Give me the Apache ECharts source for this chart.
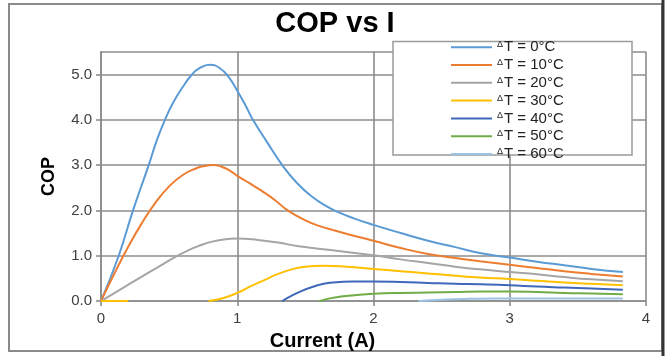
<!DOCTYPE html>
<html>
<head>
<meta charset="utf-8">
<script src="https://cdn.jsdelivr.net/npm/echarts@6/dist/echarts.min.js"></script>
<style>html,body{margin:0;padding:0;background:#fff}#c{width:670px;height:356px}</style>
</head>
<body>
<div id="c"></div>
<script>
var seriesNames = ['ΔT = 0°C','ΔT = 10°C','ΔT = 20°C','ΔT = 30°C','ΔT = 40°C','ΔT = 50°C','ΔT = 60°C'];
var colors = ['#5B9BD5','#ED7D31','#A5A5A5','#FFC000','#3F68BA','#70AD47','#9DC3E6'];
var xTicks = [0,1,2,3,4];
var yTicks = [0,1,2,3,4,5];

var x0 = [0,0.13,0.235,0.35,0.41,0.47,0.53,0.60,0.66,0.72,0.80,0.87,0.94,1.0,1.06,1.115,1.22,1.33,1.44,1.55,1.65,1.75,1.85,2.0,2.2,2.4,2.6,2.78,3.0,3.2,3.4,3.6,3.83];
var y0 = [0,1,2,3,3.55,4.0,4.38,4.72,4.97,5.13,5.21,5.14,4.93,4.64,4.32,4.0,3.5,3.0,2.6,2.3,2.1,1.95,1.83,1.68,1.5,1.33,1.19,1.06,0.96,0.87,0.79,0.71,0.64];

var x10 = [0,0.1,0.2,0.3,0.4,0.5,0.6,0.7,0.76,0.82,0.88,0.94,1.0,1.09,1.18,1.28,1.37,1.5,1.6,1.7,1.82,2.0,2.2,2.4,2.6,2.78,3.0,3.2,3.4,3.6,3.83];
var y10 = [0,0.62,1.2,1.72,2.17,2.53,2.78,2.93,2.98,3.0,2.97,2.89,2.76,2.6,2.43,2.22,2.0,1.78,1.66,1.57,1.47,1.33,1.17,1.04,0.95,0.88,0.8,0.73,0.66,0.6,0.54];

var x20 = [0,0.15,0.3,0.44,0.55,0.64,0.72,0.80,0.90,1.0,1.15,1.3,1.45,1.7,2.0,2.2,2.4,2.6,2.78,3.0,3.2,3.4,3.6,3.83];
var y20 = [0,0.27,0.54,0.79,0.98,1.12,1.22,1.30,1.36,1.38,1.35,1.29,1.21,1.12,1.01,0.92,0.84,0.76,0.70,0.64,0.59,0.53,0.48,0.44];

var x30 = [0,0.2,null,0.79,0.9,1.0,1.1,1.21,1.3,1.4,1.5,1.63,1.8,2.0,2.2,2.4,2.6,2.78,3.0,3.2,3.4,3.6,3.83];
var y30 = [0,0,null,0,0.07,0.18,0.33,0.48,0.6,0.7,0.76,0.78,0.76,0.71,0.66,0.61,0.56,0.52,0.49,0.45,0.41,0.38,0.35];

var x40 = [1.33,1.40,1.47,1.55,1.62,1.70,1.85,2.0,2.2,2.4,2.6,2.78,3.0,3.2,3.4,3.6,3.83];
var y40 = [0,0.12,0.22,0.31,0.37,0.41,0.43,0.43,0.42,0.40,0.38,0.37,0.35,0.32,0.30,0.28,0.25];

var x50 = [1.60,1.68,1.76,1.86,2.0,2.2,2.4,2.6,2.8,3.0,3.2,3.4,3.6,3.83];
var y50 = [0,0.06,0.10,0.13,0.16,0.18,0.19,0.20,0.21,0.21,0.20,0.18,0.17,0.15];

var x60 = [2.33,2.5,2.7,2.9,3.1,3.4,3.83];
var y60 = [0,0.03,0.05,0.06,0.06,0.06,0.06];

var xs = [x0,x10,x20,x30,x40,x50,x60];
var ys = [y0,y10,y20,y30,y40,y50,y60];

function pairs(xa, ya){
  return xa.map(function(x,i){ return x === null ? [null,null] : [x, ya[i]]; });
}

var FONT = 'Liberation Sans, Arial, sans-serif';
var gridColor = '#8c8c8c';

var chart = echarts.init(document.getElementById('c'), null, {renderer:'canvas'});
chart.setOption({
  animation:false,
  backgroundColor:'#fff',
  color: colors,
  title:{
    text:'COP vs I', left:'center', top:9, padding:0,
    textStyle:{fontFamily:FONT, fontSize:29, fontWeight:'bold', color:'#000'}
  },
  grid:{left:101, right:24, top:51.7, bottom:48, containLabel:false},
  xAxis:{
    type:'value', min:0, max:4, interval:1,
    name:'Current (A)', nameLocation:'middle', nameGap:22,
    nameTextStyle:{fontFamily:FONT, fontSize:20, fontWeight:'bold', color:'#000', padding:[0,102,0,0]},
    axisLine:{show:true, lineStyle:{color:gridColor, width:1.6}},
    axisTick:{show:true, length:5, lineStyle:{color:gridColor, width:1.6}},
    axisLabel:{fontFamily:FONT, fontSize:15, color:'#404040', margin:10,
      formatter:function(v){ return xTicks.indexOf(v) >= 0 ? String(v) : ''; }},
    splitLine:{show:true, lineStyle:{color:gridColor, width:1.6}}
  },
  yAxis:{
    type:'value', min:0, max:5.5, interval:1,
    name:'COP', nameLocation:'middle', nameGap:43,
    nameTextStyle:{fontFamily:FONT, fontSize:18, fontWeight:'bold', color:'#000'},
    axisLine:{show:true, lineStyle:{color:gridColor, width:1.6}},
    axisTick:{show:true, length:5, lineStyle:{color:gridColor, width:1.6}},
    axisLabel:{fontFamily:FONT, fontSize:15, color:'#404040', margin:9, showMaxLabel:false,
      formatter:function(v){ return yTicks.indexOf(v) >= 0 ? v.toFixed(1) : ''; }},
    splitLine:{show:true, lineStyle:{color:gridColor, width:1.6}}
  },
  legend:{
    orient:'vertical', left:451, top:39.7, padding:0, z:20,
    icon:'rect', itemWidth:41, itemHeight:2, itemGap:2.8,
    data: seriesNames,
    formatter:function(n){ return n.replace('Δ','{s|Δ}'); },
    textStyle:{fontFamily:FONT, fontSize:15, lineHeight:14, color:'#222',
      rich:{s:{fontFamily:FONT, fontSize:9, lineHeight:14, color:'#222', padding:[0,1,5,0]}}}
  },
  graphic:[
    {type:'rect', z:10, shape:{x:393, y:41.5, width:239, height:113.5},
      style:{fill:'#fff', stroke:'#9a9a9a', lineWidth:1.5}},
    {type:'rect', z:0, shape:{x:9, y:4, width:653, height:347},
      style:{fill:'none', stroke:'#8a8a8a', lineWidth:2}},
    {type:'line', z:0, shape:{x1:663, y1:0, x2:663, y2:356},
      style:{stroke:'#333', lineWidth:3}}
  ],
  series: seriesNames.map(function(n,i){
    return {
      name:n, type:'line', data:pairs(xs[i], ys[i]),
      smooth:0.5, showSymbol:false, symbol:'none', connectNulls:false, clip:true,
      lineStyle:{width:2, color:colors[i]}, itemStyle:{color:colors[i]}, z:3
    };
  })
});
</script>
</body>
</html>
